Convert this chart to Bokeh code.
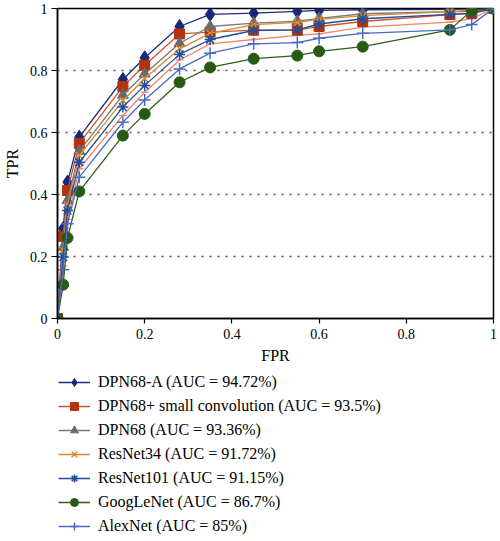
from bokeh.plotting import figure
from bokeh.layouts import column
from bokeh.models import (Legend, LegendItem, FixedTicker, CustomJSTickFormatter,
                          Range1d)
from bokeh.embed import file_html
from bokeh.resources import INLINE

# ---- data -------------------------------------------------------------
fpr = [0, 0.013, 0.023, 0.05, 0.15, 0.2, 0.28, 0.35, 0.45, 0.55, 0.6, 0.7, 0.9, 0.95, 1.0]

tpr_dpn68a = [0, 0.29, 0.44, 0.585, 0.771, 0.841, 0.942, 0.981, 0.985, 0.991, 0.994, 0.996, 0.997, 0.999, 1]
tpr_dpn68sc = [0, 0.265, 0.413, 0.565, 0.748, 0.817, 0.918, 0.924, 0.930, 0.930, 0.942, 0.958, 0.980, 0.984, 1]
tpr_dpn68 = [0, 0.23, 0.381, 0.54, 0.721, 0.789, 0.888, 0.942, 0.953, 0.959, 0.968, 0.983, 0.990, 0.990, 1]
tpr_resnet34 = [0, 0.22, 0.365, 0.526, 0.703, 0.774, 0.870, 0.920, 0.948, 0.955, 0.965, 0.977, 0.990, 0.995, 1]
tpr_resnet101 = [0, 0.198, 0.348, 0.504, 0.682, 0.752, 0.852, 0.900, 0.929, 0.931, 0.950, 0.967, 0.981, 0.984, 1]
tpr_extra = [0, 0.17, 0.32, 0.483, 0.655, 0.730, 0.834, 0.886, 0.900, 0.913, 0.918, 0.940, 0.956, 0.967, 1]
tpr_googlenet = [0, 0.109, 0.26, 0.41, 0.59, 0.66, 0.762, 0.81, 0.838, 0.848, 0.862, 0.877, 0.931, 0.994, 1]
tpr_alexnet = [0, 0.157, 0.306, 0.456, 0.633, 0.705, 0.805, 0.856, 0.886, 0.890, 0.904, 0.920, 0.931, 0.948, 1]

labels = ["DPN68-A (AUC = 94.72%)", "DPN68+ small convolution (AUC = 93.5%)",
          "DPN68 (AUC = 93.36%)", "ResNet34 (AUC = 91.72%)",
          "ResNet101 (AUC = 91.15%)", "GoogLeNet (AUC = 86.7%)",
          "AlexNet (AUC = 85%)"]
ticks = [0, 0.2, 0.4, 0.6, 0.8, 1.0]

SERIF = "Liberation Serif"
FIG_W = 496

p = figure(frame_width=436, frame_height=310,
           x_range=Range1d(0, 1), y_range=Range1d(0, 1),
           output_backend="svg", toolbar_location=None,
           min_border_left=56, min_border_right=4, min_border_top=8, min_border_bottom=52,
           background_fill_color="white", border_fill_color="white")

p.outline_line_color = "black"
p.outline_line_width = 1.5
p.xgrid.visible = False
p.ygrid.ticker = FixedTicker(ticks=[0.2, 0.4, 0.6, 0.8])
p.ygrid.grid_line_color = "#555555"
p.ygrid.grid_line_dash = "2 6"
p.ygrid.grid_line_width = 1.3

fmt = CustomJSTickFormatter(code="return String(Math.round(tick*10)/10);")
for ax in (p.xaxis[0], p.yaxis[0]):
    ax.ticker = FixedTicker(ticks=ticks)
    ax.formatter = fmt
    ax.axis_line_color = "black"
    ax.axis_line_width = 1.5
    ax.major_tick_line_color = "black"
    ax.major_tick_line_width = 1.2
    ax.major_tick_out = 5
    ax.major_tick_in = 0
    ax.minor_tick_line_color = None
    ax.major_label_text_font = SERIF
    ax.major_label_text_font_size = "14px"
    ax.major_label_text_color = "black"
    ax.axis_label_text_font = SERIF
    ax.axis_label_text_font_size = "16px"
    ax.axis_label_text_font_style = "normal"
    ax.axis_label_text_color = "black"
p.xaxis.axis_label = "FPR"
p.yaxis.axis_label = "TPR"
p.xaxis.axis_label_standoff = 5
p.yaxis.axis_label_standoff = 6
p.yaxis.major_label_standoff = 4
p.yaxis.major_tick_out = 6

series = [
    (tpr_dpn68a, "#1a2d7e", "#16287a", "diamond", 14),
    (tpr_dpn68sc, "#d4522b", "#b3330e", "square", 10),
    (tpr_dpn68, "#7a7a7a", "#6a6a6a", "triangle", 11),
    (tpr_resnet34, "#d98a30", "#d98a30", "x", 10),
    (tpr_resnet101, "#1f4f9c", "#1f4f9c", "asterisk", 11),
    (tpr_googlenet, "#2d5f19", "#285a14", "circle", 11),
    (tpr_alexnet, "#4a6bc4", "#4a6bc4", "cross", 12),
]

# unlabelled salmon curve
p.line(fpr, tpr_extra, line_color="#f2856a", line_width=1.3)
p.scatter(fpr, tpr_extra, marker="dash", size=8, line_color="#f2856a", line_width=1.3)


def draw(fig, ys, lc, mc, mk, sz):
    lr = fig.line(fpr, ys, line_color=lc, line_width=1.3)
    if mk in ("x", "asterisk", "cross"):
        sr = fig.scatter(fpr, ys, marker=mk, size=sz, line_color=mc, line_width=1.5,
                         fill_color=None)
    else:
        sr = fig.scatter(fpr, ys, marker=mk, size=sz, line_color=mc, fill_color=mc)
    return lr, sr


for s in series:
    draw(p, *s)

# ---- legend panel below the chart -------------------------------------
LEG_H = 166
q = figure(width=FIG_W, height=LEG_H, x_range=Range1d(10, 11), y_range=Range1d(10, 11),
           output_backend="svg", toolbar_location=None,
           min_border_left=0, min_border_right=0, min_border_top=0, min_border_bottom=0,
           x_axis_location=None, y_axis_location=None,
           background_fill_color="white", border_fill_color="white")
q.outline_line_color = None
q.grid.visible = False

items = []
for s, lab in zip(series, labels):
    lr, sr = draw(q, *s)
    items.append(LegendItem(label=lab, renderers=[lr, sr]))

n = len(items)
gh, sp = 20, 4
leg_h = n * gh + (n - 1) * sp
legend = Legend(items=items, location=(1, LEG_H - 2 - leg_h), orientation="vertical",
                border_line_color=None, background_fill_alpha=0,
                label_text_font=SERIF, label_text_font_size="16px",
                label_text_color="black",
                glyph_width=32, glyph_height=gh, label_height=gh,
                label_standoff=8, spacing=sp, padding=0, margin=0)
q.add_layout(legend, "center")

layout = column(p, q, spacing=0)
open("out.html", "w").write(file_html(layout, INLINE))
